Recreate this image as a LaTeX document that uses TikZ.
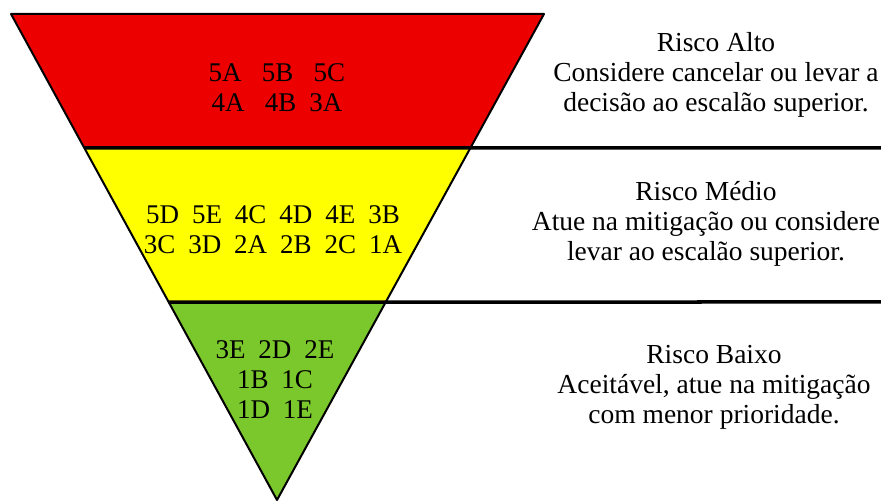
\documentclass[tikz,border=0pt]{standalone}
\usepackage{fontspec}
\setmainfont{Liberation Serif}
\usetikzlibrary{calc}

\definecolor{riscoalto}{RGB}{236,0,0}
\definecolor{riscomedio}{RGB}{255,255,0}
\definecolor{riscobaixo}{RGB}{122,200,44}

\newcommand{\gap}{\hspace{0.48em}}
\newcommand{\wgap}{\hspace{0.75em}}

\tikzset{
  codes/.style={align=center, font=\fontsize{27}{30}\selectfont},
  legend/.style={align=center, font=\fontsize{27.5}{30}\selectfont},
  band/.style={line width=3.5pt}
}

\begin{document}
\begin{tikzpicture}[x=1pt,y=-1pt]
  \useasboundingbox (0,0) rectangle (881,502);

  \coordinate (tl) at (11,14);
  \coordinate (tr) at (544,14);
  \coordinate (apex) at (277,500);
  \coordinate (l1) at ($(tl)!0.2757!(apex)$);
  \coordinate (r1) at ($(tr)!0.2757!(apex)$);
  \coordinate (l2) at ($(tl)!0.5926!(apex)$);
  \coordinate (r2) at ($(tr)!0.5926!(apex)$);
  \coordinate (e1) at (881,148);
  \coordinate (e2) at (881,302);

  \fill[riscoalto] (tl) -- (tr) -- (r1) -- (l1) -- cycle;
  \fill[riscomedio] (l1) -- (r1) -- (r2) -- (l2) -- cycle;
  \fill[riscobaixo] (l2) -- (r2) -- (apex) -- cycle;
  \draw[line width=2pt, line join=round] (tl) -- (tr) -- (apex) -- cycle;
  \draw[band] (l1) -- (e1);
  \draw[band] (l2) -- (e2);

  \node[codes] (alto) at (277,88) {5A\wgap 5B\wgap 5C\\4A\wgap 4B\gap 3A};
  \node[codes] (medio) at (273,230) {5D\gap 5E\gap 4C\gap 4D\gap 4E\gap 3B\\3C\gap 3D\gap 2A\gap 2B\gap 2C\gap 1A};
  \node[codes] (baixo) at (275,380) {3E\gap 2D\gap 2E\\1B\gap 1C\\1D\gap 1E};

  \node[legend] (txtalto) at (716,75) {Risco Alto\\Considere cancelar ou levar a\\decisão ao escalão superior.};
  \node[legend] (txtmedio) at (706,224) {Risco Médio\\Atue na mitigação ou considere\\levar ao escalão superior.};
  \node[legend] (txtbaixo) at (714,387) {Risco Baixo\\Aceitável, atue na mitigação\\com menor prioridade.};
\end{tikzpicture}
\end{document}
